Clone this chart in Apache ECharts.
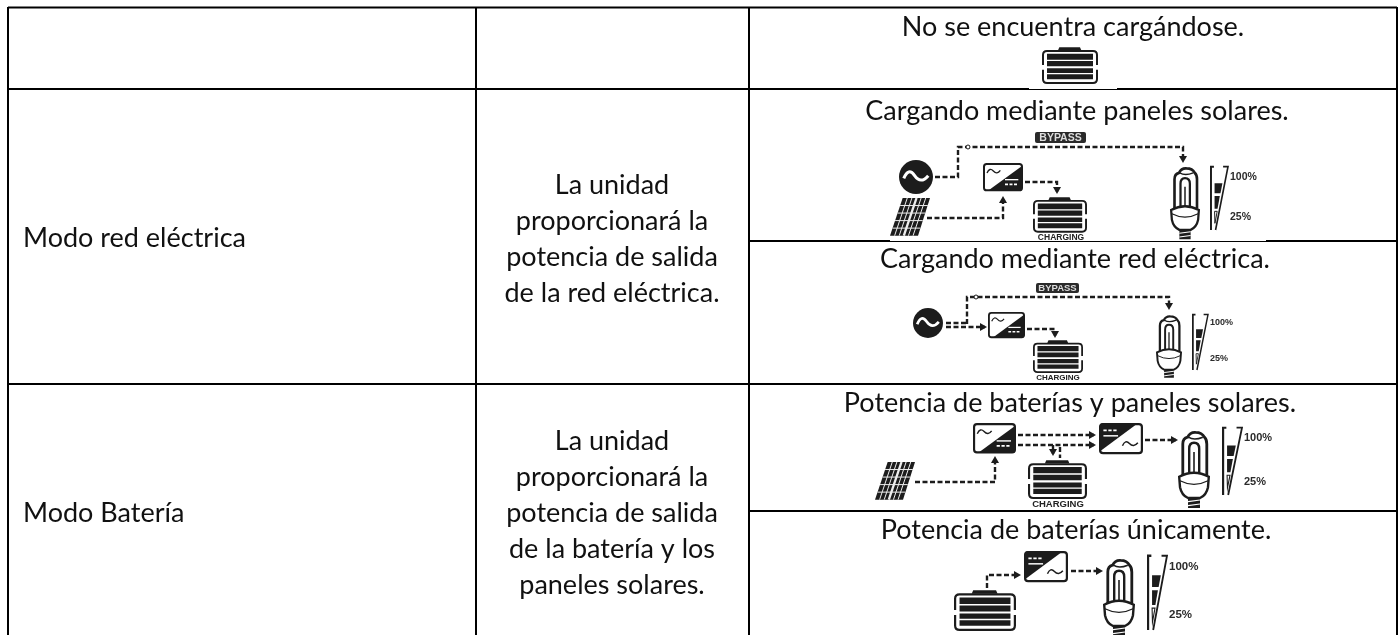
<!DOCTYPE html>
<html>
<head>
<meta charset="utf-8">
<title>Modos de funcionamiento</title>
<script src="https://cdn.jsdelivr.net/npm/echarts@6/dist/echarts.min.js"></script>
<style>
  html, body { margin: 0; padding: 0; background: #fff; }
  #main { width: 1398px; height: 635px; }
</style>
</head>
<body>
<div id="main"></div>
<script>
  // table texts
  const modeNames = ['Modo red eléctrica', 'Modo Batería'];
  const gridText = ['La unidad', 'proporcionará la', 'potencia de salida', 'de la red eléctrica.'];
  const batteryText = ['La unidad', 'proporcionará la', 'potencia de salida', 'de la batería y los', 'paneles solares.'];
  const captions = [
    'No se encuentra cargándose.',
    'Cargando mediante paneles solares.',
    'Cargando mediante red eléctrica.',
    'Potencia de baterías y paneles solares.',
    'Potencia de baterías únicamente.'
  ];
  const gaugeLabels = ['100%', '25%'];
  const bypassLabel = 'BYPASS';
  const chargingLabel = 'CHARGING';

  const INK = '#1c1c1c';
  const TEXT_FONT = 'Lato, "Open Sans", sans-serif';
  const TEXT_SIZE = 27;
  const els = [];

  function line(x1, y1, x2, y2, w, color) {
    els.push({ type: 'line', shape: { x1, y1, x2, y2 }, style: { stroke: color || '#000', lineWidth: w || 2 } });
  }
  function patch(x, y, width, height) {
    els.push({ type: 'rect', shape: { x, y, width, height }, style: { fill: '#fff' } });
  }
  function label(text, x, y, size, align, font, weight, color) {
    els.push({
      type: 'text', x, y,
      style: {
        text, align: align || 'center', verticalAlign: 'middle',
        font: (weight || 'normal') + ' ' + size + 'px ' + (font || TEXT_FONT),
        fill: color || '#111'
      }
    });
  }
  function p(d, fill, stroke, w) {
    return { type: 'path', shape: { pathData: d }, style: { fill: fill || 'none', stroke: stroke || 'none', lineWidth: w || 0 } };
  }
  function place(children, x, y, sx, sy) {
    els.push({ type: 'group', x, y, scaleX: sx, scaleY: sy === undefined ? sx : sy, children });
  }

  // dashed connector, optionally ending with an arrow head
  function flow(pts, arrow) {
    els.push({ type: 'polyline', shape: { points: pts }, style: { stroke: INK, lineWidth: 2.4, lineDash: [5, 2.5], fill: 'none' } });
    if (!arrow) return;
    const a = pts[pts.length - 2], b = pts[pts.length - 1];
    const len = Math.hypot(b[0] - a[0], b[1] - a[1]);
    const ux = (b[0] - a[0]) / len, uy = (b[1] - a[1]) / len;
    els.push({
      type: 'polygon',
      shape: { points: [
        [b[0] + ux * 2, b[1] + uy * 2],
        [b[0] - ux * 5 - uy * 4, b[1] - uy * 5 + ux * 4],
        [b[0] - ux * 5 + uy * 4, b[1] - uy * 5 - ux * 4]
      ] },
      style: { fill: INK }
    });
  }
  function tap(cx, cy) {
    els.push({ type: 'circle', shape: { cx, cy, r: 2 }, style: { fill: '#fff', stroke: INK, lineWidth: 1 } });
  }

  // icons are drawn in their own local units, then scaled into place
  function battery(x, y, w) {
    const kids = [
      p('M3 54L3 24Q3 12 15 12L153 12Q165 12 165 24L165 54', null, INK, 6),
      p('M3 68L3 96Q3 108 15 108L153 108Q165 108 165 96L165 68', null, INK, 6),
      p('M48 10L52 1L114 1L118 10Z', INK)
    ];
    [[20, 18], [42, 16], [64, 14], [82, 15]].forEach(function (b) {
      kids.push({ type: 'rect', shape: { x: 15, y: b[0], width: 138, height: b[1] }, style: { fill: INK } });
    });
    place(kids, x, y, w / 168);
  }
  function inverter(x, y, w, flipped) {
    const kids = [{ type: 'rect', shape: { x: 3, y: 3, width: 114, height: 79, r: 8 }, style: { fill: '#fff', stroke: INK, lineWidth: 6 } }];
    if (!flipped) {
      kids.push(p('M118 8L118 76Q118 84 110 84L14 84Z', INK));
      kids.push(p('M12 30Q20 12 31 24T52 22', null, INK, 4));
      kids.push({ type: 'rect', shape: { x: 66, y: 48, width: 40, height: 4 }, style: { fill: '#fff' } });
      kids.push({ type: 'line', shape: { x1: 66, y1: 64, x2: 106, y2: 64 }, style: { stroke: '#fff', lineWidth: 5, lineDash: [9, 4.5] } });
    } else {
      kids.push(p('M106 1L10 1Q2 1 2 9L2 78Z', INK));
      kids.push(p('M64 62Q72 44 83 56T106 54', null, INK, 4));
      kids.push({ type: 'line', shape: { x1: 12, y1: 20, x2: 52, y2: 20 }, style: { stroke: '#fff', lineWidth: 5, lineDash: [9, 4.5] } });
      kids.push({ type: 'rect', shape: { x: 12, y: 33, width: 40, height: 4 }, style: { fill: '#fff' } });
    }
    place(kids, x, y, w / 120);
  }
  function source(cx, cy, r) {
    place([
      { type: 'circle', shape: { cx: 0, cy: 0, r: 50 }, style: { fill: INK } },
      p('M-36 4Q-22 -30 -4 -4T36 -4', null, '#fff', 9)
    ], cx, cy, r / 50);
  }
  function panel(x, y, w) {
    const kids = [p('M38 0L120 0L84 113L0 113Z', INK)];
    for (let r = 1; r < 5; r++) {
      const yy = r * 113 / 5, off = 38 * (1 - yy / 113);
      kids.push({ type: 'line', shape: { x1: off, y1: yy, x2: off + 83, y2: yy }, style: { stroke: '#eee', lineWidth: 3 } });
    }
    for (let c = 1; c < 6; c++) {
      const xx = c * 83 / 6;
      kids.push({ type: 'line', shape: { x1: 38 + xx, y1: 0, x2: xx, y2: 113 }, style: { stroke: '#eee', lineWidth: c === 3 ? 7 : 3 } });
    }
    place(kids, x, y, w / 120);
  }
  function bulb(x, y, w) {
    place([
      p('M12 108L12 30Q12 16 24 13Q30 0 44 1Q60 1 66 13Q72 18 72 30L72 108', '#fff', INK, 7),
      p('M28 106L28 42Q28 27 40 27Q53 27 53 42L53 106', null, INK, 6),
      p('M26 13Q40 22 62 13', null, INK, 4),
      p('M40 50L40 104', null, INK, 4),
      p('M3 112Q40 92 77 112L75 138Q71 158 55 165L25 165Q9 158 5 138Z', '#fff', INK, 6),
      p('M5 122Q40 140 75 122', null, INK, 3),
      { type: 'rect', shape: { x: 25, y: 165, width: 30, height: 25 }, style: { fill: INK } },
      { type: 'line', shape: { x1: 25, y1: 174, x2: 55, y2: 170 }, style: { stroke: '#fff', lineWidth: 3 } },
      { type: 'line', shape: { x1: 25, y1: 184, x2: 55, y2: 180 }, style: { stroke: '#fff', lineWidth: 3 } }
    ], x, y, w / 80);
  }
  function gauge(x, y, w, h) {
    place([
      p('M3 192L3 2L12 2', null, INK, 6),
      p('M40 2L55 2L17 192', null, INK, 5),
      p('M14 52L38 52L32 82L14 82Z', INK),
      p('M14 90L30 90L23 128L14 128Z', INK),
      p('M14 136L22 136L15 172Z', null, INK, 3)
    ], x, y, w / 55, h / 192);
  }
  function gaugeText(x, yHigh, yLow, size) {
    label(gaugeLabels[0], x, yHigh, size, 'left', '"Liberation Sans", sans-serif', 'bold', '#2b2b2b');
    label(gaugeLabels[1], x, yLow, size, 'left', '"Liberation Sans", sans-serif', 'bold', '#2b2b2b');
  }
  function bypassTag(x, y, w, h) {
    els.push({ type: 'rect', shape: { x, y, width: w, height: h, r: 2 }, style: { fill: '#2a2a2a' } });
    label(bypassLabel, x + w / 2, y + h / 2 + 0.5, h - 0.5, 'center', '"Liberation Sans", sans-serif', 'bold', '#ddd');
  }
  function chargingTag(cx, cy, size) {
    label(chargingLabel, cx, cy, size, 'center', '"Liberation Sans", sans-serif', 'bold', '#222');
  }

  // table rules
  line(8, 7.5, 1397, 7.5);
  line(8, 89, 1397, 89);
  line(8, 384, 1397, 384);
  line(749, 241, 1397, 241);
  line(749, 511, 1397, 511);
  line(8, 7, 8, 635);
  line(476, 7, 476, 635);
  line(749, 7, 749, 635);
  line(1397, 7, 1397, 635);
  // the pasted icons clip the rules a little
  patch(1029, 88, 88, 1);
  patch(890, 240, 376, 1);

  // left and middle columns
  label(modeNames[0], 23, 238, TEXT_SIZE, 'left');
  label(modeNames[1], 23, 513, TEXT_SIZE, 'left');
  gridText.forEach(function (t, i) { label(t, 612, 185 + i * 36, TEXT_SIZE); });
  batteryText.forEach(function (t, i) { label(t, 612, 441 + i * 36, TEXT_SIZE); });

  // right column captions
  [[1073, 27], [1077, 111], [1075, 259], [1070, 403], [1076, 530]].forEach(function (c, i) {
    label(captions[i], c[0], c[1], TEXT_SIZE);
  });

  // no charge
  battery(1042, 47, 56);

  // charging from solar
  bypassTag(1035, 132, 51, 11);
  flow([[935, 177], [958, 177], [958, 147], [1183, 147], [1183, 161]], true);
  tap(968, 147);
  source(916, 177, 17);
  panel(890, 198, 40);
  inverter(983, 163, 40, false);
  flow([[927, 218], [1003, 218], [1003, 198]], true);
  flow([[1025, 182], [1057, 182], [1057, 192]], true);
  battery(1033, 197, 54);
  chargingTag(1061, 238, 8.5);
  bulb(1170, 168, 30);
  gauge(1210, 166, 18, 64);
  gaugeText(1230, 177, 217, 10.5);

  // charging from the grid
  bypassTag(1036, 283, 43, 10);
  flow([[967, 324], [967, 297], [1169, 297], [1169, 308]], true);
  tap(976, 297);
  source(928, 323, 15);
  flow([[946, 323], [967, 323]]);
  flow([[946, 327], [985, 327]], true);
  inverter(988, 312, 37, false);
  flow([[1027, 329], [1055, 329], [1055, 336]], true);
  battery(1033, 340, 50);
  chargingTag(1058, 378, 8);
  bulb(1156, 316, 26);
  gauge(1192, 314, 16, 56);
  gaugeText(1210, 323, 359, 9);

  // batteries plus solar
  inverter(973, 423, 43, false);
  inverter(1099, 423, 44, true);
  flow([[1018, 435], [1094, 435]], true);
  flow([[1018, 445], [1094, 445]], true);
  flow([[1053, 445], [1053, 454]], true);
  flow([[1060, 447], [1060, 458]]);
  battery(1028, 460, 59);
  chargingTag(1058, 504, 9.5);
  panel(875, 462, 40);
  flow([[915, 482], [995, 482], [995, 458]], true);
  flow([[1145, 440], [1176, 440]], true);
  bulb(1178, 432, 32);
  gauge(1222, 427, 20, 68);
  gaugeText(1244, 438, 482, 11);

  // batteries only
  battery(954, 590, 62);
  flow([[987, 588], [987, 575], [1019, 575]], true);
  inverter(1024, 551, 44, true);
  flow([[1071, 571], [1101, 571]], true);
  bulb(1103, 560, 32);
  gauge(1147, 555, 20, 75);
  gaugeText(1169, 567, 615, 11.5);

  const chart = echarts.init(document.getElementById('main'));
  chart.setOption({
    backgroundColor: '#fff',
    animation: false,
    series: [{
      type: 'custom',
      coordinateSystem: 'none',
      silent: true,
      data: [[0]],
      renderItem: function () {
        return { type: 'group', children: els };
      }
    }]
  });
</script>
</body>
</html>
